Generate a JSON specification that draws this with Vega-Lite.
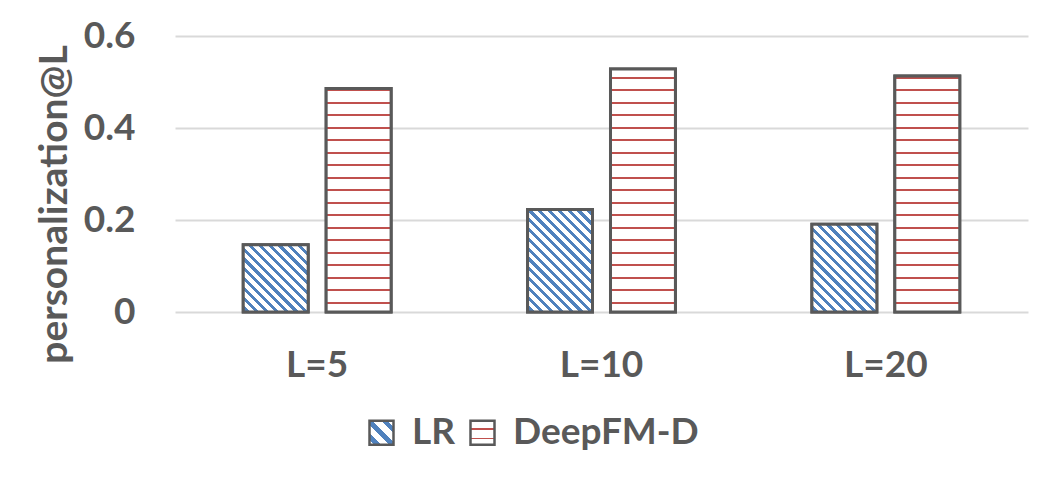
{
  "$schema": "https://vega.github.io/schema/vega-lite/v6.json",
  "width": 853,
  "height": 276,
  "autosize": {"type": "none"},
  "padding": {"left": 175, "top": 36, "right": 22, "bottom": 166},
  "background": "white",
  "data": {
    "values": [
      {"L": "L=5", "series": "LR", "value": 0.146},
      {"L": "L=5", "series": "DeepFM-D", "value": 0.486},
      {"L": "L=10", "series": "LR", "value": 0.223},
      {"L": "L=10", "series": "DeepFM-D", "value": 0.528},
      {"L": "L=20", "series": "LR", "value": 0.191},
      {"L": "L=20", "series": "DeepFM-D", "value": 0.513}
    ]
  },
  "encoding": {
    "x": {
      "field": "L", "type": "nominal", "sort": ["L=5", "L=10", "L=20"],
      "scale": {"paddingInner": 0.48, "paddingOuter": 0.24},
      "title": null,
      "axis": {"grid": false, "labelAngle": 0, "labelPadding": 35}
    },
    "xOffset": {
      "field": "series", "type": "nominal", "sort": ["LR", "DeepFM-D"],
      "scale": {"paddingInner": 0.217, "paddingOuter": 0}
    },
    "y": {
      "field": "value", "type": "quantitative",
      "scale": {"domain": [0, 0.6]},
      "title": "personalization@L",
      "axis": {"grid": true, "values": [0, 0.2, 0.4, 0.6], "format": ".1~f", "labelPadding": 40,
        "titleX": -109, "titleY": 168, "titleAlign": "center", "titleBaseline": "alphabetic", "titleAngle": 270, "titleFontSize": 39}
    }
  },
  "layer": [
    {
      "mark": {"type": "bar", "stroke": "#595959", "strokeWidth": 3},
      "encoding": {
        "fill": {
          "field": "series", "type": "nominal",
          "scale": {"domain": ["LR", "DeepFM-D"], "range": [
            {"expr": "{gradient:'linear',x1:0,y1:1,x2:1,y2:0,stops:[{offset:0.1,color:'#fff'},{offset:0.1,color:'#4f81bd'},{offset:0.24,color:'#4f81bd'},{offset:0.24,color:'#fff'},{offset:0.42,color:'#fff'},{offset:0.42,color:'#4f81bd'},{offset:0.56,color:'#4f81bd'},{offset:0.56,color:'#fff'},{offset:0.74,color:'#fff'},{offset:0.74,color:'#4f81bd'},{offset:0.88,color:'#4f81bd'},{offset:0.88,color:'#fff'}]}"},
            {"expr": "{gradient:'linear',x1:0,y1:0,x2:0,y2:1,stops:[{offset:0.3,color:'#fff'},{offset:0.3,color:'#c0504d'},{offset:0.38,color:'#c0504d'},{offset:0.38,color:'#fff'},{offset:0.7,color:'#fff'},{offset:0.7,color:'#c0504d'},{offset:0.78,color:'#c0504d'},{offset:0.78,color:'#fff'}]}"}
          ]},
          "legend": {
            "title": null, "orient": "none", "direction": "horizontal",
            "legendX": 188, "legendY": 378, "padding": 0,
            "symbolType": "square", "symbolSize": 576, "symbolStrokeWidth": 2.5, "symbolStrokeColor": "#595959",
            "labelFont": "Lato", "labelFontWeight": "bold", "labelFontSize": 37, "labelColor": "#595959",
            "labelOffset": 12, "columnPadding": 8, "labelLimit": 0
          }
        }
      }
    },
    {
      "transform": [{"filter": "datum.series === 'LR' && datum.L === 'L=5'"}],
      "mark": {"type": "bar", "stroke": "#595959", "strokeWidth": 3,
        "fill": {"gradient": "linear", "x1": 0, "y1": 1, "x2": 0.9834, "y2": -0.0161, "stops": [
          {"offset": 0.0200, "color": "#fff"}, {"offset": 0.0200, "color": "#4f81bd"}, {"offset": 0.0518, "color": "#4f81bd"}, {"offset": 0.0518, "color": "#fff"},
          {"offset": 0.0942, "color": "#fff"}, {"offset": 0.0942, "color": "#4f81bd"}, {"offset": 0.1259, "color": "#4f81bd"}, {"offset": 0.1259, "color": "#fff"},
          {"offset": 0.1683, "color": "#fff"}, {"offset": 0.1683, "color": "#4f81bd"}, {"offset": 0.2001, "color": "#4f81bd"}, {"offset": 0.2001, "color": "#fff"},
          {"offset": 0.2425, "color": "#fff"}, {"offset": 0.2425, "color": "#4f81bd"}, {"offset": 0.2742, "color": "#4f81bd"}, {"offset": 0.2742, "color": "#fff"},
          {"offset": 0.3166, "color": "#fff"}, {"offset": 0.3166, "color": "#4f81bd"}, {"offset": 0.3484, "color": "#4f81bd"}, {"offset": 0.3484, "color": "#fff"},
          {"offset": 0.3908, "color": "#fff"}, {"offset": 0.3908, "color": "#4f81bd"}, {"offset": 0.4225, "color": "#4f81bd"}, {"offset": 0.4225, "color": "#fff"},
          {"offset": 0.4649, "color": "#fff"}, {"offset": 0.4649, "color": "#4f81bd"}, {"offset": 0.4967, "color": "#4f81bd"}, {"offset": 0.4967, "color": "#fff"},
          {"offset": 0.5391, "color": "#fff"}, {"offset": 0.5391, "color": "#4f81bd"}, {"offset": 0.5708, "color": "#4f81bd"}, {"offset": 0.5708, "color": "#fff"},
          {"offset": 0.6132, "color": "#fff"}, {"offset": 0.6132, "color": "#4f81bd"}, {"offset": 0.6450, "color": "#4f81bd"}, {"offset": 0.6450, "color": "#fff"},
          {"offset": 0.6874, "color": "#fff"}, {"offset": 0.6874, "color": "#4f81bd"}, {"offset": 0.7191, "color": "#4f81bd"}, {"offset": 0.7191, "color": "#fff"},
          {"offset": 0.7615, "color": "#fff"}, {"offset": 0.7615, "color": "#4f81bd"}, {"offset": 0.7933, "color": "#4f81bd"}, {"offset": 0.7933, "color": "#fff"},
          {"offset": 0.8357, "color": "#fff"}, {"offset": 0.8357, "color": "#4f81bd"}, {"offset": 0.8674, "color": "#4f81bd"}, {"offset": 0.8674, "color": "#fff"},
          {"offset": 0.9098, "color": "#fff"}, {"offset": 0.9098, "color": "#4f81bd"}, {"offset": 0.9416, "color": "#4f81bd"}, {"offset": 0.9416, "color": "#fff"},
          {"offset": 0.9840, "color": "#fff"}, {"offset": 0.9840, "color": "#4f81bd"}, {"offset": 1, "color": "#4f81bd"}
        ]}
      }
    },
    {
      "transform": [{"filter": "datum.series === 'LR' && datum.L === 'L=10'"}],
      "mark": {"type": "bar", "stroke": "#595959", "strokeWidth": 3,
        "fill": {"gradient": "linear", "x1": 0, "y1": 1, "x2": 0.7386, "y2": -0.1656, "stops": [
          {"offset": 0.0200, "color": "#fff"}, {"offset": 0.0200, "color": "#4f81bd"}, {"offset": 0.0451, "color": "#4f81bd"}, {"offset": 0.0451, "color": "#fff"},
          {"offset": 0.0785, "color": "#fff"}, {"offset": 0.0785, "color": "#4f81bd"}, {"offset": 0.1035, "color": "#4f81bd"}, {"offset": 0.1035, "color": "#fff"},
          {"offset": 0.1370, "color": "#fff"}, {"offset": 0.1370, "color": "#4f81bd"}, {"offset": 0.1620, "color": "#4f81bd"}, {"offset": 0.1620, "color": "#fff"},
          {"offset": 0.1954, "color": "#fff"}, {"offset": 0.1954, "color": "#4f81bd"}, {"offset": 0.2205, "color": "#4f81bd"}, {"offset": 0.2205, "color": "#fff"},
          {"offset": 0.2539, "color": "#fff"}, {"offset": 0.2539, "color": "#4f81bd"}, {"offset": 0.2790, "color": "#4f81bd"}, {"offset": 0.2790, "color": "#fff"},
          {"offset": 0.3124, "color": "#fff"}, {"offset": 0.3124, "color": "#4f81bd"}, {"offset": 0.3375, "color": "#4f81bd"}, {"offset": 0.3375, "color": "#fff"},
          {"offset": 0.3709, "color": "#fff"}, {"offset": 0.3709, "color": "#4f81bd"}, {"offset": 0.3959, "color": "#4f81bd"}, {"offset": 0.3959, "color": "#fff"},
          {"offset": 0.4294, "color": "#fff"}, {"offset": 0.4294, "color": "#4f81bd"}, {"offset": 0.4544, "color": "#4f81bd"}, {"offset": 0.4544, "color": "#fff"},
          {"offset": 0.4878, "color": "#fff"}, {"offset": 0.4878, "color": "#4f81bd"}, {"offset": 0.5129, "color": "#4f81bd"}, {"offset": 0.5129, "color": "#fff"},
          {"offset": 0.5463, "color": "#fff"}, {"offset": 0.5463, "color": "#4f81bd"}, {"offset": 0.5714, "color": "#4f81bd"}, {"offset": 0.5714, "color": "#fff"},
          {"offset": 0.6048, "color": "#fff"}, {"offset": 0.6048, "color": "#4f81bd"}, {"offset": 0.6299, "color": "#4f81bd"}, {"offset": 0.6299, "color": "#fff"},
          {"offset": 0.6633, "color": "#fff"}, {"offset": 0.6633, "color": "#4f81bd"}, {"offset": 0.6883, "color": "#4f81bd"}, {"offset": 0.6883, "color": "#fff"},
          {"offset": 0.7218, "color": "#fff"}, {"offset": 0.7218, "color": "#4f81bd"}, {"offset": 0.7468, "color": "#4f81bd"}, {"offset": 0.7468, "color": "#fff"},
          {"offset": 0.7802, "color": "#fff"}, {"offset": 0.7802, "color": "#4f81bd"}, {"offset": 0.8053, "color": "#4f81bd"}, {"offset": 0.8053, "color": "#fff"},
          {"offset": 0.8387, "color": "#fff"}, {"offset": 0.8387, "color": "#4f81bd"}, {"offset": 0.8638, "color": "#4f81bd"}, {"offset": 0.8638, "color": "#fff"},
          {"offset": 0.8972, "color": "#fff"}, {"offset": 0.8972, "color": "#4f81bd"}, {"offset": 0.9223, "color": "#4f81bd"}, {"offset": 0.9223, "color": "#fff"},
          {"offset": 0.9557, "color": "#fff"}, {"offset": 0.9557, "color": "#4f81bd"}, {"offset": 0.9807, "color": "#4f81bd"}, {"offset": 0.9807, "color": "#fff"}
        ]}
      }
    },
    {
      "transform": [{"filter": "datum.series === 'LR' && datum.L === 'L=20'"}],
      "mark": {"type": "bar", "stroke": "#595959", "strokeWidth": 3,
        "fill": {"gradient": "linear", "x1": 0, "y1": 1, "x2": 0.8319, "y2": -0.1244, "stops": [
          {"offset": 0.0200, "color": "#fff"}, {"offset": 0.0200, "color": "#4f81bd"}, {"offset": 0.0475, "color": "#4f81bd"}, {"offset": 0.0475, "color": "#fff"},
          {"offset": 0.0841, "color": "#fff"}, {"offset": 0.0841, "color": "#4f81bd"}, {"offset": 0.1116, "color": "#4f81bd"}, {"offset": 0.1116, "color": "#fff"},
          {"offset": 0.1482, "color": "#fff"}, {"offset": 0.1482, "color": "#4f81bd"}, {"offset": 0.1757, "color": "#4f81bd"}, {"offset": 0.1757, "color": "#fff"},
          {"offset": 0.2123, "color": "#fff"}, {"offset": 0.2123, "color": "#4f81bd"}, {"offset": 0.2398, "color": "#4f81bd"}, {"offset": 0.2398, "color": "#fff"},
          {"offset": 0.2764, "color": "#fff"}, {"offset": 0.2764, "color": "#4f81bd"}, {"offset": 0.3039, "color": "#4f81bd"}, {"offset": 0.3039, "color": "#fff"},
          {"offset": 0.3406, "color": "#fff"}, {"offset": 0.3406, "color": "#4f81bd"}, {"offset": 0.3680, "color": "#4f81bd"}, {"offset": 0.3680, "color": "#fff"},
          {"offset": 0.4047, "color": "#fff"}, {"offset": 0.4047, "color": "#4f81bd"}, {"offset": 0.4321, "color": "#4f81bd"}, {"offset": 0.4321, "color": "#fff"},
          {"offset": 0.4688, "color": "#fff"}, {"offset": 0.4688, "color": "#4f81bd"}, {"offset": 0.4962, "color": "#4f81bd"}, {"offset": 0.4962, "color": "#fff"},
          {"offset": 0.5329, "color": "#fff"}, {"offset": 0.5329, "color": "#4f81bd"}, {"offset": 0.5604, "color": "#4f81bd"}, {"offset": 0.5604, "color": "#fff"},
          {"offset": 0.5970, "color": "#fff"}, {"offset": 0.5970, "color": "#4f81bd"}, {"offset": 0.6245, "color": "#4f81bd"}, {"offset": 0.6245, "color": "#fff"},
          {"offset": 0.6611, "color": "#fff"}, {"offset": 0.6611, "color": "#4f81bd"}, {"offset": 0.6886, "color": "#4f81bd"}, {"offset": 0.6886, "color": "#fff"},
          {"offset": 0.7252, "color": "#fff"}, {"offset": 0.7252, "color": "#4f81bd"}, {"offset": 0.7527, "color": "#4f81bd"}, {"offset": 0.7527, "color": "#fff"},
          {"offset": 0.7893, "color": "#fff"}, {"offset": 0.7893, "color": "#4f81bd"}, {"offset": 0.8168, "color": "#4f81bd"}, {"offset": 0.8168, "color": "#fff"},
          {"offset": 0.8534, "color": "#fff"}, {"offset": 0.8534, "color": "#4f81bd"}, {"offset": 0.8809, "color": "#4f81bd"}, {"offset": 0.8809, "color": "#fff"},
          {"offset": 0.9175, "color": "#fff"}, {"offset": 0.9175, "color": "#4f81bd"}, {"offset": 0.9450, "color": "#4f81bd"}, {"offset": 0.9450, "color": "#fff"},
          {"offset": 0.9817, "color": "#fff"}, {"offset": 0.9817, "color": "#4f81bd"}, {"offset": 1, "color": "#4f81bd"}
        ]}
      }
    },
    {
      "transform": [{"filter": "datum.series === 'DeepFM-D' && datum.L === 'L=5'"}],
      "mark": {"type": "bar", "stroke": "#595959", "strokeWidth": 3,
        "fill": {"gradient": "linear", "x1": 0, "y1": 0, "x2": 0, "y2": 1, "stops": [
          {"offset": 0.0034, "color": "#fff"}, {"offset": 0.0034, "color": "#c0504d"}, {"offset": 0.0123, "color": "#c0504d"}, {"offset": 0.0123, "color": "#fff"},
          {"offset": 0.0593, "color": "#fff"}, {"offset": 0.0593, "color": "#c0504d"}, {"offset": 0.0683, "color": "#c0504d"}, {"offset": 0.0683, "color": "#fff"},
          {"offset": 0.1152, "color": "#fff"}, {"offset": 0.1152, "color": "#c0504d"}, {"offset": 0.1242, "color": "#c0504d"}, {"offset": 0.1242, "color": "#fff"},
          {"offset": 0.1711, "color": "#fff"}, {"offset": 0.1711, "color": "#c0504d"}, {"offset": 0.1801, "color": "#c0504d"}, {"offset": 0.1801, "color": "#fff"},
          {"offset": 0.2271, "color": "#fff"}, {"offset": 0.2271, "color": "#c0504d"}, {"offset": 0.2360, "color": "#c0504d"}, {"offset": 0.2360, "color": "#fff"},
          {"offset": 0.2830, "color": "#fff"}, {"offset": 0.2830, "color": "#c0504d"}, {"offset": 0.2919, "color": "#c0504d"}, {"offset": 0.2919, "color": "#fff"},
          {"offset": 0.3389, "color": "#fff"}, {"offset": 0.3389, "color": "#c0504d"}, {"offset": 0.3478, "color": "#c0504d"}, {"offset": 0.3478, "color": "#fff"},
          {"offset": 0.3948, "color": "#fff"}, {"offset": 0.3948, "color": "#c0504d"}, {"offset": 0.4037, "color": "#c0504d"}, {"offset": 0.4037, "color": "#fff"},
          {"offset": 0.4507, "color": "#fff"}, {"offset": 0.4507, "color": "#c0504d"}, {"offset": 0.4597, "color": "#c0504d"}, {"offset": 0.4597, "color": "#fff"},
          {"offset": 0.5066, "color": "#fff"}, {"offset": 0.5066, "color": "#c0504d"}, {"offset": 0.5156, "color": "#c0504d"}, {"offset": 0.5156, "color": "#fff"},
          {"offset": 0.5625, "color": "#fff"}, {"offset": 0.5625, "color": "#c0504d"}, {"offset": 0.5715, "color": "#c0504d"}, {"offset": 0.5715, "color": "#fff"},
          {"offset": 0.6185, "color": "#fff"}, {"offset": 0.6185, "color": "#c0504d"}, {"offset": 0.6274, "color": "#c0504d"}, {"offset": 0.6274, "color": "#fff"},
          {"offset": 0.6744, "color": "#fff"}, {"offset": 0.6744, "color": "#c0504d"}, {"offset": 0.6833, "color": "#c0504d"}, {"offset": 0.6833, "color": "#fff"},
          {"offset": 0.7303, "color": "#fff"}, {"offset": 0.7303, "color": "#c0504d"}, {"offset": 0.7392, "color": "#c0504d"}, {"offset": 0.7392, "color": "#fff"},
          {"offset": 0.7862, "color": "#fff"}, {"offset": 0.7862, "color": "#c0504d"}, {"offset": 0.7951, "color": "#c0504d"}, {"offset": 0.7951, "color": "#fff"},
          {"offset": 0.8421, "color": "#fff"}, {"offset": 0.8421, "color": "#c0504d"}, {"offset": 0.8511, "color": "#c0504d"}, {"offset": 0.8511, "color": "#fff"},
          {"offset": 0.8980, "color": "#fff"}, {"offset": 0.8980, "color": "#c0504d"}, {"offset": 0.9070, "color": "#c0504d"}, {"offset": 0.9070, "color": "#fff"},
          {"offset": 0.9539, "color": "#fff"}, {"offset": 0.9539, "color": "#c0504d"}, {"offset": 0.9629, "color": "#c0504d"}, {"offset": 0.9629, "color": "#fff"}
        ]}
      }
    },
    {
      "transform": [{"filter": "datum.series === 'DeepFM-D' && datum.L === 'L=10'"}],
      "mark": {"type": "bar", "stroke": "#595959", "strokeWidth": 3,
        "fill": {"gradient": "linear", "x1": 0, "y1": 0, "x2": 0, "y2": 1, "stops": [
          {"offset": 0.0312, "color": "#fff"}, {"offset": 0.0312, "color": "#c0504d"}, {"offset": 0.0394, "color": "#c0504d"}, {"offset": 0.0394, "color": "#fff"},
          {"offset": 0.0827, "color": "#fff"}, {"offset": 0.0827, "color": "#c0504d"}, {"offset": 0.0909, "color": "#c0504d"}, {"offset": 0.0909, "color": "#fff"},
          {"offset": 0.1341, "color": "#fff"}, {"offset": 0.1341, "color": "#c0504d"}, {"offset": 0.1424, "color": "#c0504d"}, {"offset": 0.1424, "color": "#fff"},
          {"offset": 0.1856, "color": "#fff"}, {"offset": 0.1856, "color": "#c0504d"}, {"offset": 0.1938, "color": "#c0504d"}, {"offset": 0.1938, "color": "#fff"},
          {"offset": 0.2371, "color": "#fff"}, {"offset": 0.2371, "color": "#c0504d"}, {"offset": 0.2453, "color": "#c0504d"}, {"offset": 0.2453, "color": "#fff"},
          {"offset": 0.2885, "color": "#fff"}, {"offset": 0.2885, "color": "#c0504d"}, {"offset": 0.2968, "color": "#c0504d"}, {"offset": 0.2968, "color": "#fff"},
          {"offset": 0.3400, "color": "#fff"}, {"offset": 0.3400, "color": "#c0504d"}, {"offset": 0.3482, "color": "#c0504d"}, {"offset": 0.3482, "color": "#fff"},
          {"offset": 0.3915, "color": "#fff"}, {"offset": 0.3915, "color": "#c0504d"}, {"offset": 0.3997, "color": "#c0504d"}, {"offset": 0.3997, "color": "#fff"},
          {"offset": 0.4429, "color": "#fff"}, {"offset": 0.4429, "color": "#c0504d"}, {"offset": 0.4512, "color": "#c0504d"}, {"offset": 0.4512, "color": "#fff"},
          {"offset": 0.4944, "color": "#fff"}, {"offset": 0.4944, "color": "#c0504d"}, {"offset": 0.5026, "color": "#c0504d"}, {"offset": 0.5026, "color": "#fff"},
          {"offset": 0.5459, "color": "#fff"}, {"offset": 0.5459, "color": "#c0504d"}, {"offset": 0.5541, "color": "#c0504d"}, {"offset": 0.5541, "color": "#fff"},
          {"offset": 0.5973, "color": "#fff"}, {"offset": 0.5973, "color": "#c0504d"}, {"offset": 0.6056, "color": "#c0504d"}, {"offset": 0.6056, "color": "#fff"},
          {"offset": 0.6488, "color": "#fff"}, {"offset": 0.6488, "color": "#c0504d"}, {"offset": 0.6570, "color": "#c0504d"}, {"offset": 0.6570, "color": "#fff"},
          {"offset": 0.7003, "color": "#fff"}, {"offset": 0.7003, "color": "#c0504d"}, {"offset": 0.7085, "color": "#c0504d"}, {"offset": 0.7085, "color": "#fff"},
          {"offset": 0.7517, "color": "#fff"}, {"offset": 0.7517, "color": "#c0504d"}, {"offset": 0.7600, "color": "#c0504d"}, {"offset": 0.7600, "color": "#fff"},
          {"offset": 0.8032, "color": "#fff"}, {"offset": 0.8032, "color": "#c0504d"}, {"offset": 0.8114, "color": "#c0504d"}, {"offset": 0.8114, "color": "#fff"},
          {"offset": 0.8547, "color": "#fff"}, {"offset": 0.8547, "color": "#c0504d"}, {"offset": 0.8629, "color": "#c0504d"}, {"offset": 0.8629, "color": "#fff"},
          {"offset": 0.9061, "color": "#fff"}, {"offset": 0.9061, "color": "#c0504d"}, {"offset": 0.9144, "color": "#c0504d"}, {"offset": 0.9144, "color": "#fff"},
          {"offset": 0.9576, "color": "#fff"}, {"offset": 0.9576, "color": "#c0504d"}, {"offset": 0.9658, "color": "#c0504d"}, {"offset": 0.9658, "color": "#fff"}
        ]}
      }
    },
    {
      "transform": [{"filter": "datum.series === 'DeepFM-D' && datum.L === 'L=20'"}],
      "mark": {"type": "bar", "stroke": "#595959", "strokeWidth": 3,
        "fill": {"gradient": "linear", "x1": 0, "y1": 0, "x2": 0, "y2": 1, "stops": [
          {"offset": 0.0029, "color": "#fff"}, {"offset": 0.0029, "color": "#c0504d"}, {"offset": 0.0114, "color": "#c0504d"}, {"offset": 0.0114, "color": "#fff"},
          {"offset": 0.0559, "color": "#fff"}, {"offset": 0.0559, "color": "#c0504d"}, {"offset": 0.0643, "color": "#c0504d"}, {"offset": 0.0643, "color": "#fff"},
          {"offset": 0.1088, "color": "#fff"}, {"offset": 0.1088, "color": "#c0504d"}, {"offset": 0.1173, "color": "#c0504d"}, {"offset": 0.1173, "color": "#fff"},
          {"offset": 0.1618, "color": "#fff"}, {"offset": 0.1618, "color": "#c0504d"}, {"offset": 0.1703, "color": "#c0504d"}, {"offset": 0.1703, "color": "#fff"},
          {"offset": 0.2148, "color": "#fff"}, {"offset": 0.2148, "color": "#c0504d"}, {"offset": 0.2232, "color": "#c0504d"}, {"offset": 0.2232, "color": "#fff"},
          {"offset": 0.2677, "color": "#fff"}, {"offset": 0.2677, "color": "#c0504d"}, {"offset": 0.2762, "color": "#c0504d"}, {"offset": 0.2762, "color": "#fff"},
          {"offset": 0.3207, "color": "#fff"}, {"offset": 0.3207, "color": "#c0504d"}, {"offset": 0.3292, "color": "#c0504d"}, {"offset": 0.3292, "color": "#fff"},
          {"offset": 0.3737, "color": "#fff"}, {"offset": 0.3737, "color": "#c0504d"}, {"offset": 0.3821, "color": "#c0504d"}, {"offset": 0.3821, "color": "#fff"},
          {"offset": 0.4266, "color": "#fff"}, {"offset": 0.4266, "color": "#c0504d"}, {"offset": 0.4351, "color": "#c0504d"}, {"offset": 0.4351, "color": "#fff"},
          {"offset": 0.4796, "color": "#fff"}, {"offset": 0.4796, "color": "#c0504d"}, {"offset": 0.4881, "color": "#c0504d"}, {"offset": 0.4881, "color": "#fff"},
          {"offset": 0.5326, "color": "#fff"}, {"offset": 0.5326, "color": "#c0504d"}, {"offset": 0.5410, "color": "#c0504d"}, {"offset": 0.5410, "color": "#fff"},
          {"offset": 0.5856, "color": "#fff"}, {"offset": 0.5856, "color": "#c0504d"}, {"offset": 0.5940, "color": "#c0504d"}, {"offset": 0.5940, "color": "#fff"},
          {"offset": 0.6385, "color": "#fff"}, {"offset": 0.6385, "color": "#c0504d"}, {"offset": 0.6470, "color": "#c0504d"}, {"offset": 0.6470, "color": "#fff"},
          {"offset": 0.6915, "color": "#fff"}, {"offset": 0.6915, "color": "#c0504d"}, {"offset": 0.6999, "color": "#c0504d"}, {"offset": 0.6999, "color": "#fff"},
          {"offset": 0.7445, "color": "#fff"}, {"offset": 0.7445, "color": "#c0504d"}, {"offset": 0.7529, "color": "#c0504d"}, {"offset": 0.7529, "color": "#fff"},
          {"offset": 0.7974, "color": "#fff"}, {"offset": 0.7974, "color": "#c0504d"}, {"offset": 0.8059, "color": "#c0504d"}, {"offset": 0.8059, "color": "#fff"},
          {"offset": 0.8504, "color": "#fff"}, {"offset": 0.8504, "color": "#c0504d"}, {"offset": 0.8588, "color": "#c0504d"}, {"offset": 0.8588, "color": "#fff"},
          {"offset": 0.9034, "color": "#fff"}, {"offset": 0.9034, "color": "#c0504d"}, {"offset": 0.9118, "color": "#c0504d"}, {"offset": 0.9118, "color": "#fff"},
          {"offset": 0.9563, "color": "#fff"}, {"offset": 0.9563, "color": "#c0504d"}, {"offset": 0.9648, "color": "#c0504d"}, {"offset": 0.9648, "color": "#fff"}
        ]}
      }
    }
  ],
  "config": {
    "view": {"stroke": null},
    "font": "Lato",
    "axis": {
      "labelFont": "Lato", "labelFontWeight": "bold", "labelFontSize": 37, "labelColor": "#595959",
      "titleFont": "Lato", "titleFontWeight": "bold", "titleFontSize": 37, "titleColor": "#595959",
      "domain": false, "ticks": false, "gridColor": "#d9d9d9", "gridWidth": 2
    }
  }
}
